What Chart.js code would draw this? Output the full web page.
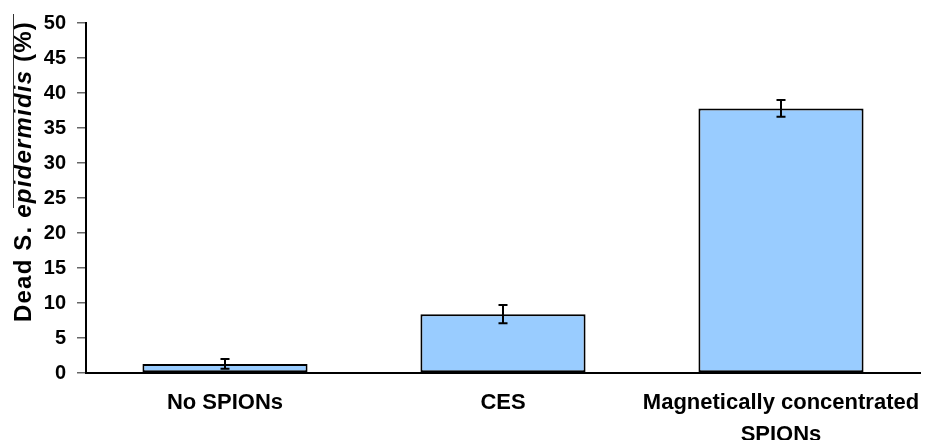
<!DOCTYPE html>
<html>
<head>
<meta charset="utf-8">
<script src="https://cdn.jsdelivr.net/npm/chart.js@4.4.1/dist/chart.umd.min.js"></script>
<style>
  html, body { margin: 0; padding: 0; background: #fff; }
  #wrap { width: 933px; height: 440px; }
</style>
</head>
<body>
<div id="wrap"><canvas id="chart"></canvas></div>
<script>
// data
const categories = ["No SPIONs", "CES", ["Magnetically concentrated", "SPIONs"]];
const deadPct = [1.3, 8.4, 37.8];
const deadErr = [0.7, 1.3, 1.2];
const yMin = 0, yMax = 50, yStep = 5;

const FONT = "'Liberation Sans', Arial, sans-serif";

// error bars on top of each bar
const errorBars = {
  id: "errorBars",
  afterDatasetsDraw(chart) {
    const { ctx } = chart;
    const y = chart.scales.y;
    const meta = chart.getDatasetMeta(0);
    ctx.save();
    ctx.strokeStyle = "#000";
    ctx.lineWidth = 2;
    meta.data.forEach((bar, i) => {
      const hi = y.getPixelForValue(deadPct[i] + deadErr[i]);
      const lo = y.getPixelForValue(deadPct[i] - deadErr[i]);
      const cap = 4.5;
      ctx.beginPath();
      ctx.moveTo(bar.x, hi); ctx.lineTo(bar.x, lo);
      ctx.moveTo(bar.x - cap, hi); ctx.lineTo(bar.x + cap, hi);
      ctx.moveTo(bar.x - cap, lo); ctx.lineTo(bar.x + cap, lo);
      ctx.stroke();
    });
    ctx.restore();
  },
};

// y title with italic species name
const yTitle = {
  id: "yTitle",
  afterDraw(chart) {
    const { ctx } = chart;
    const parts = [
      { t: "Dead S. ", f: "bold 24px " + FONT },
      { t: "epidermidis", f: "italic bold 24px " + FONT },
      { t: " (%)", f: "bold 24px " + FONT },
    ];
    ctx.save();
    ctx.translate(31, 322);
    ctx.rotate(-Math.PI / 2);
    ctx.fillStyle = "#000";
    ctx.textBaseline = "alphabetic";
    if ("letterSpacing" in ctx) ctx.letterSpacing = "1.2px";
    let x = 0;
    parts.forEach(p => {
      ctx.font = p.f;
      ctx.fillText(p.t, x, 0);
      x += ctx.measureText(p.t).width;
    });
    ctx.restore();
    // stray overline seen in the source figure
    ctx.save();
    ctx.strokeStyle = "#333";
    ctx.lineWidth = 1;
    ctx.beginPath();
    ctx.moveTo(13.5, 14); ctx.lineTo(13.5, 208);
    ctx.stroke();
    ctx.restore();
  },
};

new Chart(document.getElementById("chart"), {
  type: "bar",
  data: {
    labels: categories,
    datasets: [{
      data: deadPct,
      backgroundColor: "#99ccff",
      borderColor: "#000",
      borderWidth: 2,
      borderSkipped: false,
      categoryPercentage: 1,
      barPercentage: 0.594,
    }],
  },
  options: {
    responsive: true,
    maintainAspectRatio: false,
    animation: false,
    layout: { padding: { top: 11, right: 13, left: 0, bottom: 0 } },
    plugins: {
      legend: { display: false },
      tooltip: { enabled: false },
    },
    scales: {
      x: {
        grid: { display: false, drawTicks: false },
        border: { display: true, color: "#000", width: 2 },
        ticks: {
          color: "#000",
          padding: 14,
          maxRotation: 0,
          autoSkip: false,
          font: { family: FONT, size: 22, weight: "bold", lineHeight: 1.45 },
        },
        afterFit(scale) {
          scale.height = 67;
          scale.paddingLeft = 0;
          scale.paddingRight = 0;
        },
      },
      y: {
        min: yMin,
        max: yMax,
        grid: { display: true, drawOnChartArea: false, drawTicks: true, tickLength: 9, color: "#666", lineWidth: 1.5 },
        border: { display: true, color: "#000", width: 2 },
        ticks: {
          stepSize: yStep,
          color: "#000",
          padding: 11,
          font: { family: FONT, size: 20, weight: "bold" },
        },
        afterFit(scale) { scale.width = 86; },
      },
    },
  },
  plugins: [errorBars, yTitle],
});
</script>
</body>
</html>
